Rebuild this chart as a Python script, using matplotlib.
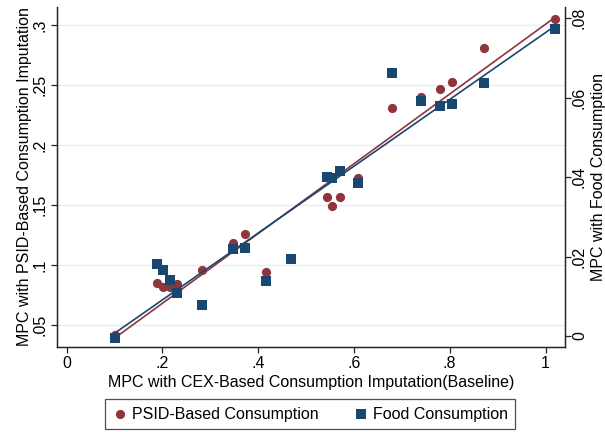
import numpy as np
import matplotlib
matplotlib.use("Agg")
import matplotlib.pyplot as plt

plt.rcParams["font.family"] = ["Liberation Sans", "DejaVu Sans"]

# MPC with CEX-based imputation (baseline), shared x for both series
mpc_cex = [0.101, 0.189, 0.202, 0.215, 0.231, 0.283, 0.348, 0.373, 0.416, 0.469,
           0.544, 0.555, 0.570, 0.609, 0.680, 0.741, 0.780, 0.804, 0.872, 1.020]
# MPC with PSID-based consumption (left axis)
mpc_psid = [0.0417, 0.0847, 0.082, 0.082, 0.084, 0.0958, 0.1186, 0.126, 0.0944, 0.106,
            0.157, 0.149, 0.157, 0.1725, 0.2306, 0.2397, 0.247, 0.2528, 0.281, 0.3046]
# MPC with food consumption (right axis)
mpc_food = [-0.0004, 0.0181, 0.0166, 0.0141, 0.0107, 0.0078, 0.0219, 0.0221, 0.0138, 0.0194,
            0.0401, 0.0397, 0.0416, 0.0384, 0.0663, 0.0591, 0.0580, 0.0583, 0.0636, 0.0772]

x_ticks = [0, 0.2, 0.4, 0.6, 0.8, 1.0]
x_labels = ["0", ".2", ".4", ".6", ".8", "1"]
left_ticks = [0.05, 0.1, 0.15, 0.2, 0.25, 0.3]
left_labels = [".05", ".1", ".15", ".2", ".25", ".3"]
right_ticks = [0, 0.02, 0.04, 0.06, 0.08]
right_labels = ["0", ".02", ".04", ".06", ".08"]

RED = "#90353b"
NAVY = "#1a476f"

x = np.array(mpc_cex)
y1 = np.array(mpc_psid)
y2 = np.array(mpc_food)

fig = plt.figure(figsize=(6.05, 4.32), dpi=100)
ax = fig.add_axes([57 / 605, 85 / 432, (565 - 57) / 605, (425 - 85) / 432])
ax2 = ax.twinx()

ax.scatter(x, y1, s=44, marker="o", color=RED, zorder=3, linewidths=0,
           label="PSID-Based Consumption")
ax2.scatter(x, y2, s=52, marker="s", color=NAVY, zorder=3, linewidths=0,
            label="Food Consumption")

# linear fits over the observed x range
xs = np.array([x.min(), x.max()])
b1 = np.polyfit(x, y1, 1)
b2 = np.polyfit(x, y2, 1)
ax.plot(xs, np.polyval(b1, xs), color=RED, lw=1.2, zorder=4)
ax2.plot(xs, np.polyval(b2, xs), color=NAVY, lw=1.2, zorder=4)

ax.set_xlim(-0.02, 1.0407)
ax.set_ylim(0.0317, 0.315)
ax2.set_ylim(-0.00277, 0.0828)

ax.set_xticks(x_ticks, x_labels)
ax.set_yticks(left_ticks, left_labels, rotation=90, va="center")
ax2.set_yticks(right_ticks, right_labels, rotation=90, va="center")

ax.yaxis.grid(True, color="#e6eef1", lw=1.0)
ax.set_axisbelow(True)

for a in (ax, ax2):
    a.spines["top"].set_visible(False)
    for s in ("left", "right", "bottom"):
        a.spines[s].set_color("#222222")
        a.spines[s].set_linewidth(0.9)
    a.tick_params(direction="out", length=4.5, width=0.9, color="#222222",
                  labelsize=11.5, pad=2)
ax2.tick_params(pad=0.5)

ax.set_xlabel("MPC with CEX-Based Consumption Imputation(Baseline)", fontsize=11.5, labelpad=3)
ax.set_ylabel("MPC with PSID-Based Consumption Imputation", fontsize=11.5,
              rotation=90, ha="center", va="center")
ax.yaxis.set_label_coords((25 - 57) / 508, 0.5)
ax2.set_ylabel("MPC with Food Consumption", fontsize=11.5, rotation=90,
               ha="center", va="center")
ax2.yaxis.set_label_coords((598.5 - 57) / 508, 0.5)

h1, l1 = ax.get_legend_handles_labels()
h2, l2 = ax2.get_legend_handles_labels()
leg = fig.legend(h1 + h2, l1 + l2, loc="center", bbox_to_anchor=(310 / 605, 1 - 414 / 432),
                 ncol=2, frameon=True, fancybox=False, fontsize=11.5, handletextpad=0.2,
                 columnspacing=2.2, borderpad=0.45, handlelength=1.0, scatterpoints=1)
leg.get_frame().set_edgecolor("#222222")
leg.get_frame().set_linewidth(0.9)

fig.savefig("out.png", dpi=100)
